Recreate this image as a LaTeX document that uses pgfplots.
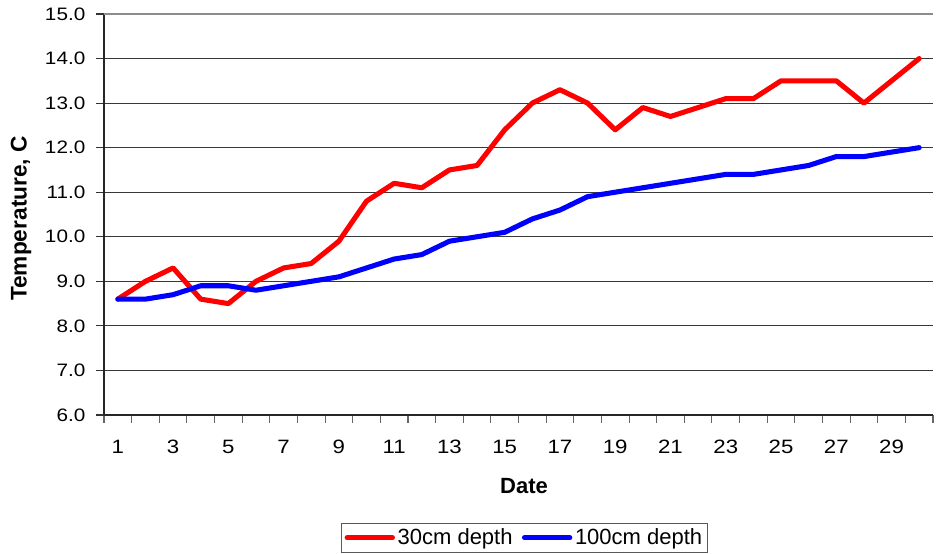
\documentclass[border=0pt]{standalone}
\usepackage{pgfplots}
\pgfplotsset{compat=1.18}
\usepackage{fontspec}
\setmainfont{Liberation Sans}
\newfontfamily\tickfont[FakeStretch=1.15]{Liberation Sans}
\begin{document}
\begin{tikzpicture}
\begin{axis}[
  scale only axis,
  width=621.75pt, height=300.75pt,
  xmin=0.5, xmax=30.5,
  ymin=6, ymax=15,
  axis lines*=left,
  axis line style={black!85, line width=1.2pt},
  xtick={1,3,...,29},
  minor xtick={0.5,1.5,...,30.5},
  major x tick style={draw=none},
  minor x tick style={black!60, line width=0.8pt},
  minor tick length=6pt,
  ytick={6,...,14},
  extra y ticks={15},
  extra y tick style={major grid style={black!45, line width=1.3pt}},
  y tick style={black!80, line width=0.8pt},
  major tick length=6pt,
  tick align=outside,
  ymajorgrids,
  major grid style={black!78, line width=0.8pt},
  /pgf/number format/assume math mode=true,
  yticklabel={\pgfmathprintnumber[fixed,fixed zerofill,precision=1]{\tick}},
  yticklabel style={font=\tickfont\fontsize{13.5}{16}\selectfont, xshift=-4.5pt},
  xticklabel style={font=\tickfont\fontsize{14.5}{17}\selectfont, yshift=-9.5pt},
  xlabel={\textbf{Date}},
  ylabel={\textbf{Temperature, C}},
  xlabel style={font=\fontsize{16.5}{19}\selectfont, at={(axis description cs:0.5066,-0.1766)}, anchor=center},
  ylabel style={font=\fontsize{17}{20}\selectfont, at={(axis description cs:-0.100,0.49)}, anchor=center},
  legend columns=2,
  legend style={at={(axis description cs:0.5075,-0.2693)}, anchor=north,
    draw=black!65, line width=0.8pt, font=\fontsize{16.5}{19}\selectfont,
    inner sep=2pt, /tikz/every even column/.append style={column sep=5pt}},
  legend image code/.code={\draw[#1, line cap=round] (0pt,0pt) -- (34pt,0pt);},
]
\addplot[red, line width=3.8pt, line join=round, line cap=round] coordinates {
(1,8.6) (2,9.0) (3,9.3) (4,8.6) (5,8.5) (6,9.0) (7,9.3) (8,9.4) (9,9.9) (10,10.8)
(11,11.2) (12,11.1) (13,11.5) (14,11.6) (15,12.4) (16,13.0) (17,13.3) (18,13.0) (19,12.4) (20,12.9)
(21,12.7) (22,12.9) (23,13.1) (24,13.1) (25,13.5) (26,13.5) (27,13.5) (28,13.0) (29,13.5) (30,14.0)};
\addlegendentry{30cm depth}
\addplot[blue, line width=3.8pt, line join=round, line cap=round] coordinates {
(1,8.6) (2,8.6) (3,8.7) (4,8.9) (5,8.9) (6,8.8) (7,8.9) (8,9.0) (9,9.1) (10,9.3)
(11,9.5) (12,9.6) (13,9.9) (14,10.0) (15,10.1) (16,10.4) (17,10.6) (18,10.9) (19,11.0) (20,11.1)
(21,11.2) (22,11.3) (23,11.4) (24,11.4) (25,11.5) (26,11.6) (27,11.8) (28,11.8) (29,11.9) (30,12.0)};
\addlegendentry{100cm depth}
\coordinate (sw) at (rel axis cs:0,0);
\coordinate (ne) at (rel axis cs:1,1);
\end{axis}
\pgfresetboundingbox
\path ([shift={(-78pt,-104.25pt)}]sw) rectangle ([shift={(6.75pt,10.5pt)}]ne);
\end{tikzpicture}
\end{document}
